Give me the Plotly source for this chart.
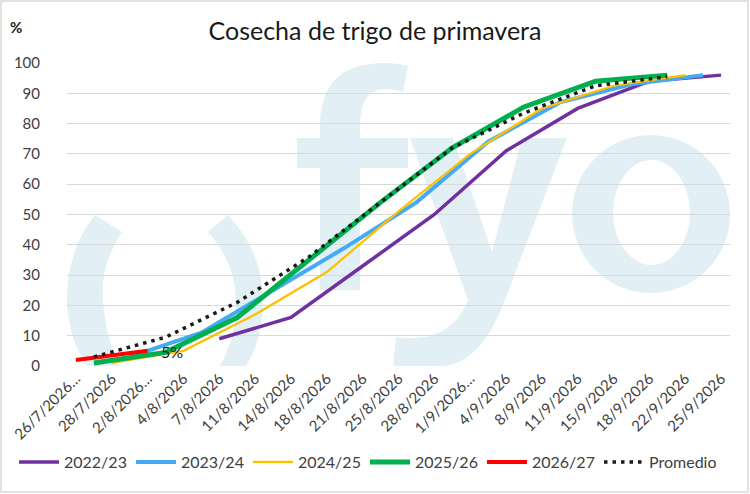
import plotly.graph_objects as go

# ---------------- data ----------------
categories = ["26/7", "27/7", "28/7", "30/7", "2/8", "3/8", "4/8", "6/8", "7/8", "10/8",
              "11/8", "13/8", "14/8", "17/8", "18/8", "20/8", "21/8", "24/8", "25/8", "27/8",
              "28/8", "31/8", "1/9", "3/9", "4/9", "7/9", "8/9", "10/9", "11/9", "14/9",
              "15/9", "17/9", "18/9", "21/9", "22/9", "24/9", "25/9"]

tick_labels = ["26/7/2026…", "28/7/2026", "2/8/2026…", "4/8/2026", "7/8/2026", "11/8/2026",
               "14/8/2026", "18/8/2026", "21/8/2026", "25/8/2026", "28/8/2026", "1/9/2026…",
               "4/9/2026", "8/9/2026", "11/9/2026", "15/9/2026", "18/9/2026", "22/9/2026",
               "25/9/2026"]

s2223_dates = ["7/8", "14/8", "21/8", "28/8", "4/9", "11/9", "18/9", "25/9"]
s2223_vals = [9, 16, 33, 50, 71, 85, 94, 96]

s2324_dates = ["30/7", "6/8", "13/8", "20/8", "27/8", "3/9", "10/9", "17/9", "24/9"]
s2324_vals = [3, 11, 25, 39, 54, 74, 87, 93, 96]

s2425_dates = ["28/7", "4/8", "11/8", "18/8", "25/8", "1/9", "8/9", "15/9", "22/9"]
s2425_vals = [1, 5, 17, 31, 51, 70, 85, 92.5, 96]

s2526_dates = ["27/7", "3/8", "10/8", "17/8", "24/8", "31/8", "7/9", "14/9", "21/9"]
s2526_vals = [1, 4.5, 16, 35, 54, 72, 85.5, 94, 96]

s2627_dates = ["26/7", "2/8"]
s2627_vals = [2, 5]

prom_dates = ["27/7", "3/8", "10/8", "17/8", "24/8", "31/8", "7/9", "14/9", "21/9"]
prom_vals = [3, 9.5, 21, 36, 54, 72, 83.5, 92.5, 95.5]

# ---------------- figure ----------------
W, H = 750, 494
L, R, T, B = 67, 20, 63, 128
PW, PH = W - L - R, H - T - B

TXT = "#404040"
FONT = "Lato"


def pxx(x):
    return (x - L) / PW


def pxy(y):
    return (H - B - y) / PH


def path(cmds):
    out = []
    for c in cmds:
        if isinstance(c, str):
            out.append(c)
        else:
            out.append(f"{pxx(c[0]):.4f},{pxy(c[1]):.4f}")
    return " ".join(out)


fig = go.Figure()

series = [
    ("2022/23", s2223_dates, s2223_vals, "#7030a0", 3.5, "solid"),
    ("2023/24", s2324_dates, s2324_vals, "#44aaf5", 4, "solid"),
    ("2024/25", s2425_dates, s2425_vals, "#ffc000", 2.25, "solid"),
    ("2025/26", s2526_dates, s2526_vals, "#00b050", 5, "solid"),
    ("2026/27", s2627_dates, s2627_vals, "#ff0000", 4, "solid"),
    ("Promedio", prom_dates, prom_vals, "#1a1a1a", 3.5, "3.5px,5px"),
]
for name, xs, ys, col, w, dash in series:
    fig.add_trace(go.Scatter(x=xs, y=ys, name=name, mode="lines",
                             line=dict(color=col, width=w, dash=dash),
                             hoverinfo="skip"))

# data label on the last 2026/27 point
fig.add_annotation(x=s2627_dates[-1], y=s2627_vals[-1], xref="x", yref="y",
                   text=f"{s2627_vals[-1]:g}%", showarrow=False, xanchor="left",
                   yanchor="middle", xshift=11, yshift=-1,
                   font=dict(family=FONT, size=16, color="#1a1a1a"))

# "%" axis caption
fig.add_annotation(x=pxx(16), y=pxy(27), xref="paper", yref="paper", text="<b>%</b>",
                   showarrow=False, xanchor="center", yanchor="middle",
                   font=dict(family=FONT, size=15, color="#1a1a1a"))

# watermark (fyo logo) below the gridlines
WM = "#e2f0f5"
shapes = []
shapes.append(dict(type="path", path=path(["M", (95, 215), "L", (122, 232), "Q", (100, 265), (103, 300),
                                           "Q", (106, 340), (120, 366), "L", (88, 366), "Q", (68, 340), (67, 300),
                                           "Q", (67, 250), (95, 215), "Z"])))
shapes.append(dict(type="path", path=path(["M", (228, 215), "Q", (263, 252), (263, 300), "Q", (263, 340), (246, 366),
                                           "L", (220, 366), "Q", (237, 335), (236, 300), "Q", (235, 262), (208, 232),
                                           "Z"])))
shapes.append(dict(type="path", path=path(["M", (320, 290), "L", (320, 125), "Q", (320, 63), (385, 63),
                                           "Q", (398, 63), (408, 66), "L", (403, 92), "Q", (395, 89), (385, 89),
                                           "Q", (360, 89), (360, 125), "L", (360, 290), "Z"])))
shapes.append(dict(type="path", path=path(["M", (297, 138), "L", (408, 138), "L", (408, 168), "L", (297, 168), "Z"])))
shapes.append(dict(type="path", path=path(["M", (410, 138), "L", (453, 138), "L", (492, 252), "L", (522, 138),
                                           "L", (567, 138), "L", (505, 300), "Q", (480, 366), (440, 366),
                                           "L", (393, 366), "L", (396, 337), "Q", (450, 345), (468, 300), "Z"])))
for s in shapes:
    s.update(xref="paper", yref="paper", fillcolor=WM, line=dict(width=0), layer="below")
shapes.append(dict(type="circle", xref="paper", yref="paper",
                   x0=pxx(572), x1=pxx(730), y0=pxy(293), y1=pxy(135),
                   fillcolor=WM, line=dict(width=0), layer="below"))
shapes.append(dict(type="circle", xref="paper", yref="paper",
                   x0=pxx(613), x1=pxx(690), y0=pxy(265), y1=pxy(160),
                   fillcolor="white", line=dict(width=0), layer="below"))
# chart border
shapes.append(dict(type="rect", xref="paper", yref="paper",
                   x0=pxx(1), x1=pxx(748), y0=pxy(492), y1=pxy(1),
                   line=dict(color="#d9d9d9", width=1.5), fillcolor="rgba(0,0,0,0)", layer="above"))

fig.update_layout(
    width=W, height=H,
    margin=dict(l=L, r=R, t=T, b=B, autoexpand=False),
    paper_bgcolor="white", plot_bgcolor="white",
    font=dict(family=FONT, color=TXT),
    title=dict(text="Cosecha de trigo de primavera", x=0.5, xref="container", xanchor="center",
               y=1 - 31 / H, yanchor="middle", font=dict(family=FONT, size=25, color="#1a1a1a"),
               automargin=False),
    shapes=shapes,
    showlegend=True,
    legend=dict(orientation="h", xref="paper", yref="paper", x=pxx(14), xanchor="left",
                y=pxy(462), yanchor="middle", font=dict(family=FONT, size=16, color=TXT),
                entrywidth=62, entrywidthmode="pixels", bgcolor="rgba(0,0,0,0)",
                traceorder="normal", itemwidth=40),
    xaxis=dict(type="category", categoryorder="array", categoryarray=categories,
               range=[-0.5, len(categories) - 0.5], tickmode="array",
               tickvals=categories[::2], ticktext=tick_labels, tickangle=-45,
               showgrid=False, showline=False, zeroline=False, ticks="", automargin=False,
               tickfont=dict(family=FONT, size=15, color=TXT)),
    yaxis=dict(range=[0, 100], dtick=10, tick0=0, showgrid=True, gridcolor="#d9d9d9",
               gridwidth=1, zeroline=False, showline=False, ticks="", automargin=False,
               ticklabelstandoff=26,
               tickfont=dict(family=FONT, size=15, color=TXT)),
)

fig.write_html("out.html", config={"displayModeBar": False},
               post_script="document.body.style.margin='0';")
